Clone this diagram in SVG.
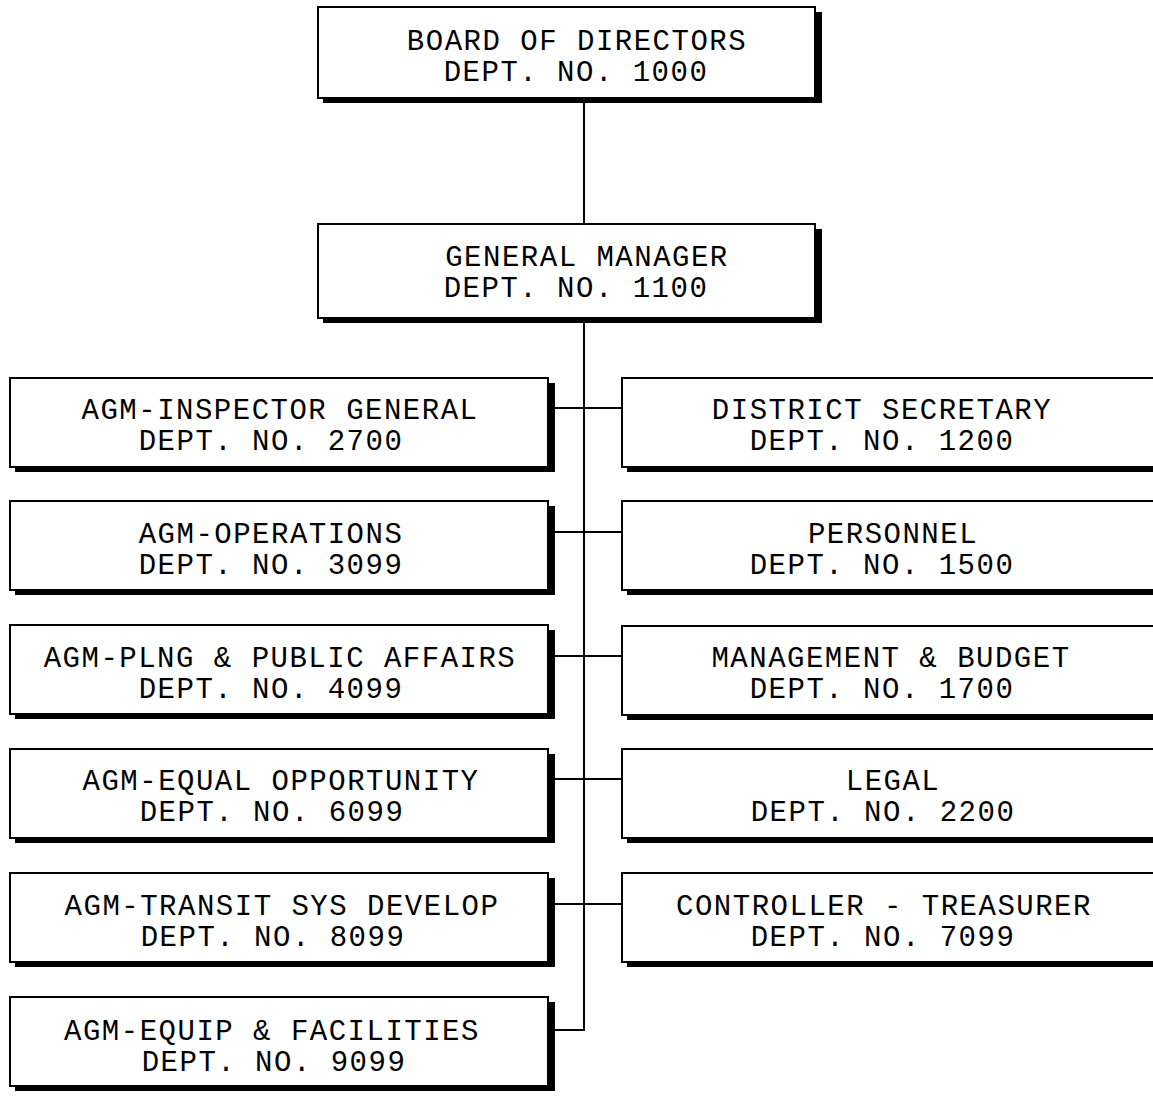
<svg xmlns="http://www.w3.org/2000/svg" width="1153" height="1096" viewBox="0 0 1153 1096">
<style>
.sh{fill:#000}
.bx{fill:#fff;stroke:#000;stroke-width:2}
.t{font-family:"Courier New","Liberation Mono",monospace;font-size:29px;letter-spacing:1.5px;fill:#000;text-anchor:middle}
.c{stroke:#000;stroke-width:2;fill:none}
</style>
<rect width="1153" height="1096" fill="#fff"/>
<g id="connectors">
<line class="c" x1="584" y1="98" x2="584" y2="224"/>
<polyline class="c" points="584,318 584,1030 548,1030"/>
<line class="c" x1="548" y1="408" x2="622" y2="408"/>
<line class="c" x1="548" y1="532" x2="622" y2="532"/>
<line class="c" x1="548" y1="656" x2="622" y2="656"/>
<line class="c" x1="548" y1="779" x2="622" y2="779"/>
<line class="c" x1="548" y1="904" x2="622" y2="904"/>
</g>
<g id="board">
<rect class="sh" x="323" y="12" width="499" height="91"/>
<rect class="bx" x="318" y="7" width="497" height="91"/>
<text class="t" x="577" y="50">BOARD OF DIRECTORS</text>
<text class="t" x="576" y="81">DEPT. NO. 1000</text>
</g>
<g id="gm">
<rect class="sh" x="323" y="229" width="499" height="94"/>
<rect class="bx" x="318" y="224" width="497" height="94"/>
<text class="t" x="587" y="266">GENERAL MANAGER</text>
<text class="t" x="576" y="297">DEPT. NO. 1100</text>
</g>
<g id="agm2700">
<rect class="sh" x="15" y="383" width="540" height="89"/>
<rect class="bx" x="10" y="378" width="538" height="89"/>
<text class="t" x="280" y="419">AGM-INSPECTOR GENERAL</text>
<text class="t" x="271" y="450">DEPT. NO. 2700</text>
</g>
<g id="agm3099">
<rect class="sh" x="15" y="506" width="540" height="89"/>
<rect class="bx" x="10" y="501" width="538" height="89"/>
<text class="t" x="271" y="543">AGM-OPERATIONS</text>
<text class="t" x="271" y="574">DEPT. NO. 3099</text>
</g>
<g id="agm4099">
<rect class="sh" x="15" y="630" width="540" height="89"/>
<rect class="bx" x="10" y="625" width="538" height="89"/>
<text class="t" x="280" y="667">AGM-PLNG &amp; PUBLIC AFFAIRS</text>
<text class="t" x="271" y="698">DEPT. NO. 4099</text>
</g>
<g id="agm6099">
<rect class="sh" x="15" y="754" width="540" height="89"/>
<rect class="bx" x="10" y="749" width="538" height="89"/>
<text class="t" x="281" y="790">AGM-EQUAL OPPORTUNITY</text>
<text class="t" x="272" y="821">DEPT. NO. 6099</text>
</g>
<g id="agm8099">
<rect class="sh" x="15" y="878" width="540" height="89"/>
<rect class="bx" x="10" y="873" width="538" height="89"/>
<text class="t" x="282" y="915">AGM-TRANSIT SYS DEVELOP</text>
<text class="t" x="273" y="946">DEPT. NO. 8099</text>
</g>
<g id="agm9099">
<rect class="sh" x="15" y="1002" width="540" height="89"/>
<rect class="bx" x="10" y="997" width="538" height="89"/>
<text class="t" x="272" y="1040">AGM-EQUIP &amp; FACILITIES</text>
<text class="t" x="274" y="1071">DEPT. NO. 9099</text>
</g>
<g id="sec1200">
<rect class="sh" x="627" y="383" width="540" height="89"/>
<rect class="bx" x="622" y="378" width="540" height="89"/>
<text class="t" x="882" y="419">DISTRICT SECRETARY</text>
<text class="t" x="882" y="450">DEPT. NO. 1200</text>
</g>
<g id="pers1500">
<rect class="sh" x="627" y="506" width="540" height="89"/>
<rect class="bx" x="622" y="501" width="540" height="89"/>
<text class="t" x="893" y="543">PERSONNEL</text>
<text class="t" x="882" y="574">DEPT. NO. 1500</text>
</g>
<g id="mb1700">
<rect class="sh" x="627" y="631" width="540" height="89"/>
<rect class="bx" x="622" y="626" width="540" height="89"/>
<text class="t" x="891" y="667">MANAGEMENT &amp; BUDGET</text>
<text class="t" x="882" y="698">DEPT. NO. 1700</text>
</g>
<g id="legal2200">
<rect class="sh" x="627" y="754" width="540" height="89"/>
<rect class="bx" x="622" y="749" width="540" height="89"/>
<text class="t" x="893" y="790">LEGAL</text>
<text class="t" x="883" y="821">DEPT. NO. 2200</text>
</g>
<g id="ctrl7099">
<rect class="sh" x="627" y="878" width="540" height="89"/>
<rect class="bx" x="622" y="873" width="540" height="89"/>
<text class="t" x="884" y="915">CONTROLLER - TREASURER</text>
<text class="t" x="883" y="946">DEPT. NO. 7099</text>
</g>
</svg>
